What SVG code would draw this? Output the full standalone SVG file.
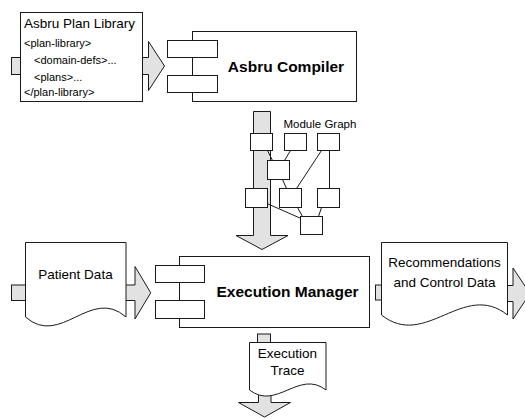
<svg xmlns="http://www.w3.org/2000/svg" width="525" height="419" viewBox="0 0 525 419">
<style>
.box{fill:#fff;stroke:#1a1a1a;stroke-width:1}
.grey{fill:#e2e2e2;stroke:#1a1a1a;stroke-width:1}
.ln{fill:none;stroke:#1a1a1a;stroke-width:1}
text{font-family:"Liberation Sans",Arial,sans-serif;fill:#000}
.t{font-size:13.5px}
.s{font-size:11px}
.b{font-size:15.5px;font-weight:bold}
.m{font-size:11.5px}
</style>
<rect width="525" height="419" fill="#fff"/>
<g id="connectors">
<rect class="grey" x="11.5" y="57.5" width="10" height="17"/>
<path class="grey" d="M140,57.5 H148.5 V41.5 L164.5,66 L148.5,90.5 V74.5 H140"/>
<path class="grey" d="M253.5,111.5 H270.5 V235.5 H288 L262,249.5 L236,235.5 H253.5 Z"/>
<rect class="grey" x="11.5" y="285" width="15" height="15.5"/>
<path class="grey" d="M124,285 H135 V266.5 L150.7,292.75 L135,319 V300.5 H124"/>
<rect class="grey" x="375.5" y="285" width="7" height="15"/>
<path class="grey" d="M505,285.5 H513 V268 L530,293.5 L513,319 V301.5 H505"/>
<rect class="grey" x="257.5" y="334" width="13" height="9"/>
<path class="grey" d="M258.5,385 V402.5 H238.5 L264.5,417 L290.5,402.5 H271 V385"/>
</g>
<g id="plan-library">
<rect class="box" x="20.5" y="12.5" width="122" height="89"/>
<text class="t" x="24" y="27.5">Asbru Plan Library</text>
<text class="s" x="24" y="47">&lt;plan-library&gt;</text>
<text class="s" x="34" y="64">&lt;domain-defs&gt;...</text>
<text class="s" x="34" y="80.5">&lt;plans&gt;...</text>
<text class="s" x="24" y="96">&lt;/plan-library&gt;</text>
</g>
<g id="asbru-compiler">
<rect class="box" x="192.5" y="31.5" width="164" height="70"/>
<rect class="box" x="167.5" y="40.5" width="50" height="17"/>
<rect class="box" x="167.5" y="75.5" width="50" height="17"/>
<text class="b" x="286" y="71.5" text-anchor="middle">Asbru Compiler</text>
</g>
<g id="module-graph">
<text class="m" x="283.5" y="127.5">Module Graph</text>
<path class="ln" d="M267.5,150.5 L272.5,160.5 M290.5,150.5 L284.5,160.5 M321.5,150.5 L296.5,188.5 M329.5,150.5 V188.5 M282.5,179.5 L286.5,188.5 M267,203.5 L301,218.5 M297.5,207.5 L302.5,216.5 M321.5,207.5 L318.5,216.5"/>
<rect class="box" x="250.5" y="133.5" width="22" height="17"/>
<rect class="box" x="284.5" y="133.5" width="22" height="17"/>
<rect class="box" x="317.5" y="133.5" width="22" height="17"/>
<rect class="box" x="267.5" y="160.5" width="22" height="19"/>
<rect class="box" x="245.5" y="188.5" width="22" height="19"/>
<rect class="box" x="279.5" y="188.5" width="22" height="19"/>
<rect class="box" x="317.5" y="188.5" width="22" height="19"/>
<rect class="box" x="300.5" y="216.5" width="22" height="18"/>
</g>
<g id="patient-data">
<path class="box" d="M25.5,242.5 H126 V317 C90.7,286 60.7,348 25.5,317 Z"/>
<text class="t" x="75.5" y="278.5" text-anchor="middle">Patient Data</text>
</g>
<g id="execution-manager">
<rect class="box" x="179.5" y="256.5" width="190" height="71"/>
<rect class="box" x="155.5" y="265.5" width="49" height="17"/>
<rect class="box" x="155.5" y="300.5" width="49" height="18"/>
<text class="b" x="287.5" y="296.5" text-anchor="middle">Execution Manager</text>
</g>
<g id="recommendations">
<path class="box" d="M381.5,242.5 H507.5 V315 C463.4,280 425.6,350 381.5,315 Z"/>
<text class="t" x="444.5" y="266.5" text-anchor="middle">Recommendations</text>
<text class="t" x="444.5" y="286.5" text-anchor="middle">and Control Data</text>
</g>
<g id="execution-trace">
<path class="box" d="M249.5,342.5 H326 V390 C299,369 276.5,411 249.5,390 Z"/>
<text class="t" x="287.5" y="358" text-anchor="middle">Execution</text>
<text class="t" x="287.5" y="375" text-anchor="middle">Trace</text>
</g>
</svg>
